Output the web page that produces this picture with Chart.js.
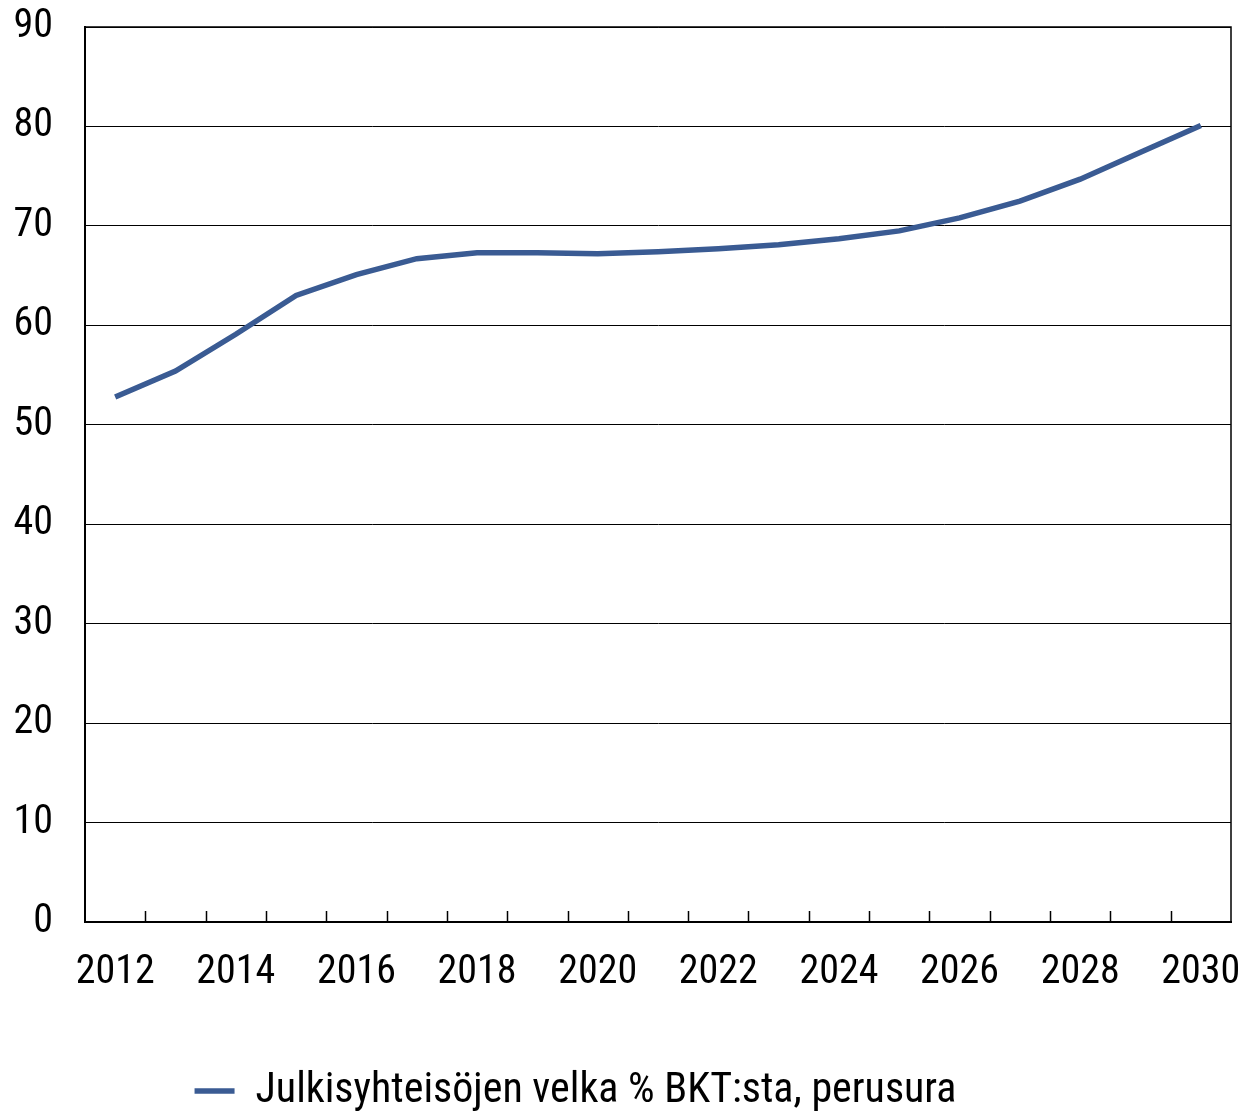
<!DOCTYPE html>
<html>
<head>
<meta charset="utf-8">
<script src="https://cdn.jsdelivr.net/npm/chart.js@4"></script>
<style>
  html, body { margin: 0; padding: 0; background: #fff; }
  #wrap { width: 1241px; height: 1114px; }
</style>
</head>
<body>
<div id="wrap"><canvas id="c" width="1241" height="1114"></canvas></div>
<script>
const years = [2012, 2013, 2014, 2015, 2016, 2017, 2018, 2019, 2020, 2021, 2022, 2023, 2024, 2025, 2026, 2027, 2028, 2029, 2030];
const debtRatio = [52.8, 55.4, 59.1, 63.0, 65.1, 66.7, 67.3, 67.3, 67.2, 67.4, 67.7, 68.1, 68.7, 69.5, 70.8, 72.5, 74.7, 77.4, 80.1];
const seriesName = 'Julkisyhteisöjen velka % BKT:sta, perusura';
const yTicks = [0, 10, 20, 30, 40, 50, 60, 70, 80, 90];

const FONT = '"Roboto Condensed", "Liberation Sans", Arial, sans-serif';
const LINE_COLOR = '#3A5B93';

const framePlugin = {
  id: 'frame',
  afterLayout(chart) {
    const L = chart.legend;
    if (L) {
      const dx = -45, dy = 8;
      L.left += dx; L.right += dx;
      L.top += dy; L.bottom += dy;
    }
  },
  afterDatasetsDraw(chart) {
    const { ctx, chartArea: a } = chart;
    const xs = chart.scales.x;
    ctx.save();
    ctx.strokeStyle = '#000';
    ctx.lineWidth = 1.5;
    ctx.beginPath();
    ctx.moveTo(a.left, a.top);
    ctx.lineTo(a.right, a.top);
    ctx.lineTo(a.right, a.bottom);
    ctx.stroke();
    ctx.beginPath();
    for (let i = 1; i < years.length; i++) {
      const x = Math.round((xs.getPixelForValue(i - 1) + xs.getPixelForValue(i)) / 2) + 0.5;
      ctx.moveTo(x, a.bottom);
      ctx.lineTo(x, a.bottom - 11);
    }
    ctx.stroke();
    ctx.restore();
  }
};

new Chart(document.getElementById('c'), {
  type: 'line',
  data: {
    labels: years.map(String),
    datasets: [{
      label: seriesName,
      data: debtRatio,
      borderColor: LINE_COLOR,
      backgroundColor: LINE_COLOR,
      borderWidth: 5.5,
      pointRadius: 0,
      tension: 0,
      fill: false
    }]
  },
  options: {
    responsive: false,
    devicePixelRatio: 1,
    animation: false,
    layout: { padding: 0 },
    plugins: {
      tooltip: { enabled: false },
      legend: {
        position: 'bottom',
        labels: {
          font: { family: FONT, size: 42 },
          color: '#000',
          usePointStyle: true,
          pointStyle: 'line',
          pointStyleWidth: 40,
          boxHeight: 42,
          padding: 4
        }
      }
    },
    scales: {
      x: {
        offset: true,
        grid: { display: false, drawTicks: false },
        border: { display: true, color: '#000', width: 2 },
        ticks: {
          autoSkip: false,
          maxRotation: 0,
          padding: 27,
          color: '#000',
          font: { family: FONT, size: 40 },
          callback: function (v, i) { return i % 2 === 0 ? this.getLabelForValue(v) : ''; }
        },
        afterFit(s) { s.height = 136; s.paddingLeft = 0; s.paddingRight = 10; }
      },
      y: {
        min: 0,
        max: 90,
        afterBuildTicks(s) { s.ticks = yTicks.map(v => ({ value: v })); },
        grid: { color: '#000', lineWidth: 1, drawTicks: false },
        border: { display: true, color: '#000', width: 2 },
        ticks: {
          padding: 32,
          color: '#000',
          font: { family: FONT, size: 40 }
        },
        afterFit(s) { s.width = 85; s.paddingTop = 27; s.paddingBottom = 0; }
      }
    }
  },
  plugins: [framePlugin]
});
</script>
</body>
</html>
